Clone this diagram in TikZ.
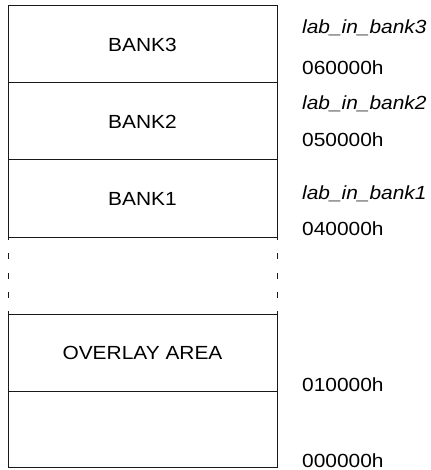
\documentclass[tikz,border=0pt]{standalone}
\usepackage{fontspec}
\setmainfont{Liberation Sans}
\usepackage{graphicx}
% labels are set slightly widened
\newcommand\widetext[1]{\scalebox{1.1}[1]{#1}}
\begin{document}
\begin{tikzpicture}[x=1pt,y=-1pt,
  frame/.style={line width=1pt, draw=black!90},
  gapline/.style={frame, dash pattern=on 6pt off 13.25pt, dash phase=3pt},
  lbl/.style={inner sep=0pt, font=\fontsize{19}{22}\selectfont},
  banklbl/.style={lbl, anchor=base},
  addr/.style={lbl, anchor=base west},
  sym/.style={addr, font=\fontsize{19}{22}\selectfont\itshape}]
\useasboundingbox (0,0) rectangle (430,470);

% memory map column
\draw[frame] (8,237) -- (8,6) -- (277,6) -- (277,237);
\draw[frame] (8,83) -- (277,83);
\draw[frame] (8,160) -- (277,160);
\draw[frame] (8,237) -- (277,237);
% elided region
\draw[gapline] (8,237) -- (8,314);
\draw[gapline] (277,237) -- (277,314);
\draw[frame] (8,314) rectangle (277,467.5);
\draw[frame] (8,391) -- (277,391);

% bank names
\node[banklbl] (b3) at (142.5,51.5) {\widetext{BANK3}};
\node[banklbl] (b2) at (142.5,128.3) {\widetext{BANK2}};
\node[banklbl] (b1) at (142.5,205) {\widetext{BANK1}};
\node[banklbl] (ov) at (142.5,359) {\widetext{OVERLAY AREA}};

% symbols and addresses
\node[sym] (s3) at (302,33.3) {\widetext{lab\_in\_bank3}};
\node[addr] (a6) at (302,75) {\widetext{060000h}};
\node[sym] (s2) at (302,110) {\widetext{lab\_in\_bank2}};
\node[addr] (a5) at (302,146.7) {\widetext{050000h}};
\node[sym] (s1) at (302,200) {\widetext{lab\_in\_bank1}};
\node[addr] (a4) at (302,235) {\widetext{040000h}};
\node[addr] (a1) at (302,391.7) {\widetext{010000h}};
\node[addr] (a0) at (302,467) {\widetext{000000h}};
\end{tikzpicture}
\end{document}
